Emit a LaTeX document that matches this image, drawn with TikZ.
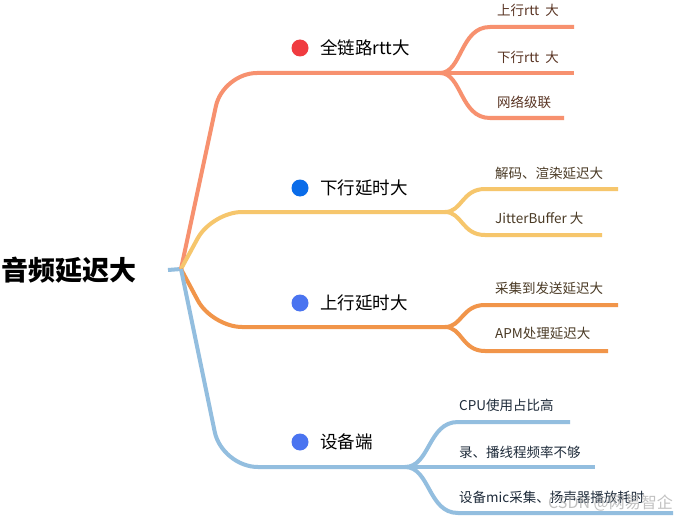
\documentclass[tikz,border=0pt]{standalone}
\usepackage{fontspec}
\newfontfamily\cjk{Noto Sans CJK SC}
\definecolor{csalmon}{HTML}{F7916F}
\definecolor{cyellow}{HTML}{F6C66C}
\definecolor{corange}{HTML}{F1954A}
\definecolor{cblue}{HTML}{93BEDF}
\definecolor{dred}{HTML}{F03B40}
\definecolor{dblue}{HTML}{0A6CE9}
\definecolor{dblueb}{HTML}{4A74F0}
\definecolor{tbrown}{HTML}{5A3524}
\definecolor{tdark}{HTML}{4A3A25}
\definecolor{tnavy}{HTML}{1E2B3A}
\tikzset{
  br/.style={line width=4pt},
  mainlbl/.style={anchor=west, inner sep=0pt, text=black, font=\cjk\fontsize{17.5}{20}\selectfont},
  sublbl/.style={anchor=west, inner sep=0pt, font=\cjk\fontsize{13.5}{16}\selectfont},
  dot/.style={circle, inner sep=0pt, minimum size=17pt},
}
\begin{document}
\begin{tikzpicture}[x=1pt,y=-1pt]
\useasboundingbox (0,0) rectangle (678,519);
\fill[white] (0,0) rectangle (678,519);

% root
\node[anchor=west, inner sep=0pt, font=\cjk\bfseries\fontsize{27}{30}\selectfont] (root) at (1,270) {音频延迟大};
\coordinate (stub) at (168,270);
\coordinate (hub) at (181,269);
\draw[br, cblue] (stub) -- (hub);

% ---------- branch 1
\coordinate (s1) at (440,73);
\draw[br, csalmon, rounded corners=34pt] (hub) -- (223,73) -- (s1);
\coordinate (e11) at (574,27);
\coordinate (e12) at (574,73);
\coordinate (e13) at (564,118);
\draw[br, csalmon] (s1) .. controls (462,73) and (460,27) .. (490,27) -- (e11);
\draw[br, csalmon] (s1) -- (e12);
\draw[br, csalmon] (s1) .. controls (462,73) and (460,118) .. (490,118) -- (e13);
\node[dot, fill=dred] (d1) at (300,48) {};
\node[mainlbl] (m1) at (320,48) {全链路rtt大};
\node[sublbl, text=tbrown] (t11) at (497,10) {上行rtt\ \ 大};
\node[sublbl, text=tbrown] (t12) at (497,57) {下行rtt\ \ 大};
\node[sublbl, text=tbrown] (t13) at (497,102) {网络级联};

% ---------- branch 2
\coordinate (s2) at (445,212);
\draw[br, cyellow, rounded corners=30pt] (hub) -- (212,212) -- (s2);
\coordinate (e21) at (618,189);
\coordinate (e22) at (602,235);
\draw[br, cyellow] (s2) .. controls (462,212) and (462,189) .. (485,189) -- (e21);
\draw[br, cyellow] (s2) .. controls (462,212) and (462,235) .. (485,235) -- (e22);
\node[dot, fill=dblue] (d2) at (300,188) {};
\node[mainlbl] (m2) at (320,188) {下行延时大};
\node[sublbl, text=tdark] (t21) at (495,173) {解码、渲染延迟大};
\node[sublbl, text=tdark] (t22) at (495,218) {JitterBuffer 大};

% ---------- branch 3
\coordinate (s3) at (445,327);
\draw[br, corange, rounded corners=30pt] (hub) -- (212,327) -- (s3);
\coordinate (e31) at (618,305);
\coordinate (e32) at (608,351);
\draw[br, corange] (s3) .. controls (462,327) and (462,305) .. (485,305) -- (e31);
\draw[br, corange] (s3) .. controls (462,327) and (462,351) .. (485,351) -- (e32);
\node[dot, fill=dblueb] (d3) at (300,303) {};
\node[mainlbl] (m3) at (320,303) {上行延时大};
\node[sublbl, text=tdark] (t31) at (495,288) {采集到发送延迟大};
\node[sublbl, text=tdark] (t32) at (495,333) {APM处理延迟大};

% ---------- branch 4
\coordinate (s4) at (405,467);
\draw[br, cblue, rounded corners=36pt] (hub) -- (222,467) -- (s4);
\coordinate (e41) at (570,422);
\coordinate (e42) at (595,467);
\coordinate (e43) at (673,513);
\draw[br, cblue] (s4) .. controls (430,467) and (428,422) .. (458,422) -- (e41);
\draw[br, cblue] (s4) -- (e42);
\draw[br, cblue] (s4) .. controls (430,467) and (428,513) .. (458,513) -- (e43);
\node[dot, fill=dblueb] (d4) at (300,442) {};
\node[mainlbl] (m4) at (320,442) {设备端};
\node[sublbl, text=tnavy] (t41) at (459,405) {CPU使用占比高};
\node[sublbl, text=tnavy] (t42) at (459,452) {录、播线程频率不够};
\node[sublbl, text=tnavy] (t43) at (459,497) {设备mic采集、扬声器播放耗时};

% watermark
\node[anchor=east, inner sep=0pt, text=gray!60, opacity=0.8, font=\cjk\fontsize{16}{18}\selectfont] (wm) at (673,503) {CSDN @网易智企};
\end{tikzpicture}
\end{document}
